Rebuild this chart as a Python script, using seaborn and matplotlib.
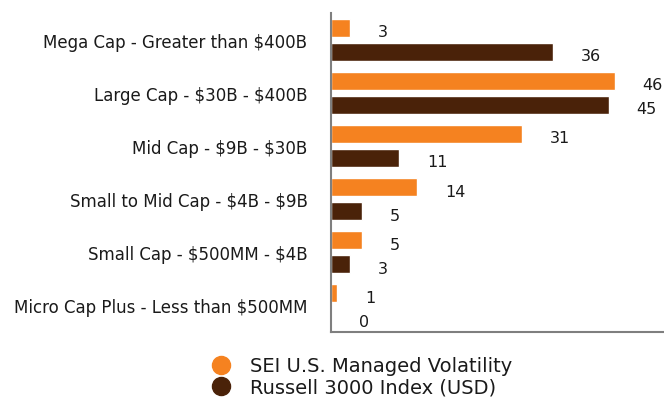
import numpy as np
import pandas as pd
import seaborn as sns
import matplotlib.pyplot as plt
from matplotlib.lines import Line2D

categories = ["Mega Cap - Greater than $400B", "Large Cap - $30B - $400B",
              "Mid Cap - $9B - $30B", "Small to Mid Cap - $4B - $9B",
              "Small Cap - $500MM - $4B", "Micro Cap Plus - Less than $500MM"]
series = ["SEI U.S. Managed Volatility", "Russell 3000 Index (USD)"]
sei_vals = [3, 46, 31, 14, 5, 1]
russell_vals = [36, 45, 11, 5, 3, 0]
colors = ["#F58220", "#4A2209"]

df = pd.DataFrame({
    "cat": categories * 2,
    "series": [series[0]] * 6 + [series[1]] * 6,
    "value": sei_vals + russell_vals,
})

sns.set_style("white")
plt.rcParams["font.family"] = ["DejaVu Sans"]

fig = plt.figure(figsize=(6.64, 4.02), dpi=100)
ax = fig.add_axes([0.4985, 0.1716, 0.5015, 0.7936])

sns.barplot(data=df, y="cat", x="value", hue="series", palette=colors,
            saturation=1, orient="h", width=0.9, gap=0.25, legend=False, ax=ax)

for cont in ax.containers:
    for bar in cont:
        w = bar.get_width()
        ax.annotate(f"{w:.0f}", (w, bar.get_y() + bar.get_height() / 2),
                    xytext=(28, -4), textcoords="offset pixels",
                    ha="left", va="center", fontsize=11.5, color="#1a1a1a")

ax.set_xlim(0, 54)
ax.set_ylim(5.5, -0.5)
ax.set_xlabel("")
ax.set_ylabel("")
ax.set_xticks([])
ax.tick_params(axis="y", length=0, labelsize=12, labelcolor="#1a1a1a", pad=17)
for t in ax.get_yticklabels():
    t.set_parse_math(False)
for s in ["top", "right"]:
    ax.spines[s].set_visible(False)
for s in ["left", "bottom"]:
    ax.spines[s].set_color("#7f7f7f")
    ax.spines[s].set_linewidth(1.5)

handles = [Line2D([], [], marker="o", linestyle="", markersize=13,
                  markerfacecolor=c, markeredgecolor=c) for c in colors]
leg = fig.legend(handles, series, loc="upper center", bbox_to_anchor=(0.545, 0.135),
                 frameon=False, fontsize=14, handletextpad=1.0, labelspacing=0.12,
                 handlelength=1.0, borderpad=0)
for t in leg.get_texts():
    t.set_color("#1a1a1a")

fig.savefig("out.png", dpi=100)
